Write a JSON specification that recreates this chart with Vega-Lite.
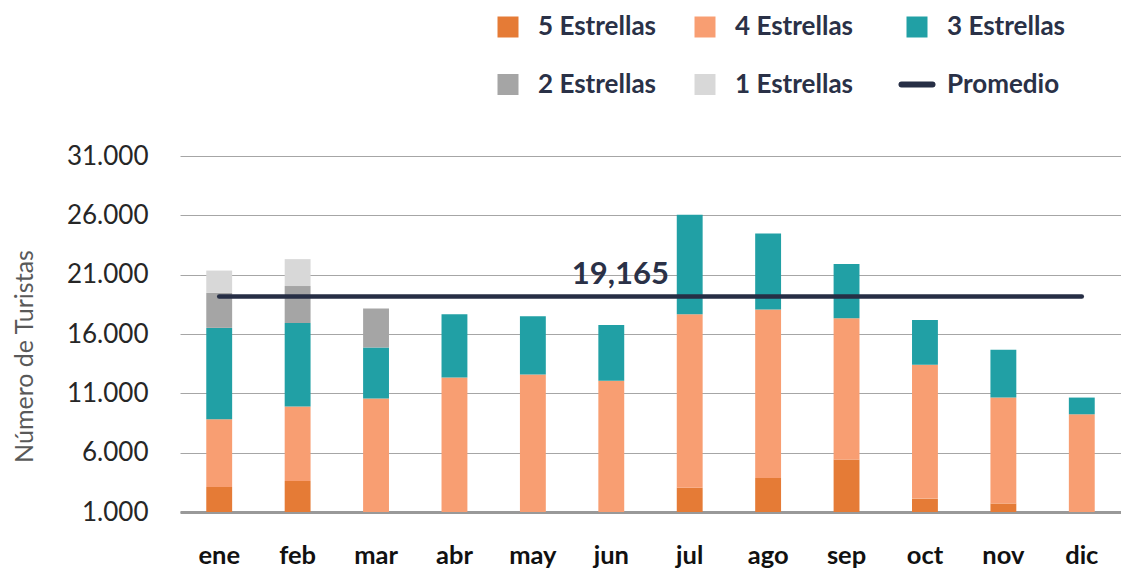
{
  "$schema": "https://vega.github.io/schema/vega-lite/v6.json",
  "width": 941,
  "height": 356,
  "autosize": {"type": "none"},
  "padding": {"left": 180, "top": 156, "right": 0, "bottom": 58},
  "background": "white",
  "config": {"font": "Lato", "view": {"stroke": null}},
  "datasets": {
    "bars": [
      {"mes": "ene", "cat": "5 Estrellas", "o": 1, "v": 3117},
      {"mes": "ene", "cat": "4 Estrellas", "o": 2, "v": 5702},
      {"mes": "ene", "cat": "3 Estrellas", "o": 3, "v": 7697},
      {"mes": "ene", "cat": "2 Estrellas", "o": 4, "v": 2951},
      {"mes": "ene", "cat": "1 Estrellas", "o": 5, "v": 1878},
      {"mes": "feb", "cat": "5 Estrellas", "o": 1, "v": 3611},
      {"mes": "feb", "cat": "4 Estrellas", "o": 2, "v": 6286},
      {"mes": "feb", "cat": "3 Estrellas", "o": 3, "v": 7029},
      {"mes": "feb", "cat": "2 Estrellas", "o": 4, "v": 3115},
      {"mes": "feb", "cat": "1 Estrellas", "o": 5, "v": 2267},
      {"mes": "mar", "cat": "4 Estrellas", "o": 2, "v": 10561},
      {"mes": "mar", "cat": "3 Estrellas", "o": 3, "v": 4293},
      {"mes": "mar", "cat": "2 Estrellas", "o": 4, "v": 3302},
      {"mes": "abr", "cat": "4 Estrellas", "o": 2, "v": 12327},
      {"mes": "abr", "cat": "3 Estrellas", "o": 3, "v": 5337},
      {"mes": "may", "cat": "4 Estrellas", "o": 2, "v": 12597},
      {"mes": "may", "cat": "3 Estrellas", "o": 3, "v": 4903},
      {"mes": "jun", "cat": "4 Estrellas", "o": 2, "v": 12056},
      {"mes": "jun", "cat": "3 Estrellas", "o": 3, "v": 4706},
      {"mes": "jul", "cat": "5 Estrellas", "o": 1, "v": 3035},
      {"mes": "jul", "cat": "4 Estrellas", "o": 2, "v": 14629},
      {"mes": "jul", "cat": "3 Estrellas", "o": 3, "v": 8386},
      {"mes": "ago", "cat": "5 Estrellas", "o": 1, "v": 3858},
      {"mes": "ago", "cat": "4 Estrellas", "o": 2, "v": 14216},
      {"mes": "ago", "cat": "3 Estrellas", "o": 3, "v": 6401},
      {"mes": "sep", "cat": "5 Estrellas", "o": 1, "v": 5423},
      {"mes": "sep", "cat": "4 Estrellas", "o": 2, "v": 11913},
      {"mes": "sep", "cat": "3 Estrellas", "o": 3, "v": 4571},
      {"mes": "oct", "cat": "5 Estrellas", "o": 1, "v": 2128},
      {"mes": "oct", "cat": "4 Estrellas", "o": 2, "v": 11282},
      {"mes": "oct", "cat": "3 Estrellas", "o": 3, "v": 3762},
      {"mes": "nov", "cat": "5 Estrellas", "o": 1, "v": 1717},
      {"mes": "nov", "cat": "4 Estrellas", "o": 2, "v": 8926},
      {"mes": "nov", "cat": "3 Estrellas", "o": 3, "v": 4030},
      {"mes": "dic", "cat": "4 Estrellas", "o": 2, "v": 9234},
      {"mes": "dic", "cat": "3 Estrellas", "o": 3, "v": 1409}
    ],
    "prom": [
      {"mes": "ene", "v": 19165},
      {"mes": "dic", "v": 19165}
    ],
    "lbl": [
      {"mes": "jun", "v": 19165, "t": "19,165"}
    ]
  },
  "layer": [
    {
      "data": {"name": "bars"},
      "mark": {"type": "bar", "clip": true},
      "encoding": {
        "x": {
          "field": "mes", "type": "nominal",
          "sort": ["ene","feb","mar","abr","may","jun","jul","ago","sep","oct","nov","dic"],
          "scale": {"paddingInner": 0.67, "paddingOuter": 0.335},
          "axis": {
            "title": null, "labelAngle": 0, "labelFontSize": 25.5, "labelFontWeight": "bold",
            "labelColor": "#111111", "labelPadding": 31, "ticks": false,
            "domainColor": "#999999", "domainWidth": 3, "grid": false
          }
        },
        "y": {
          "field": "v", "type": "quantitative", "stack": "zero",
          "scale": {"domain": [1000, 31000], "nice": false, "zero": false},
          "axis": {
            "values": [1000, 6000, 11000, 16000, 21000, 26000, 31000],
            "labelExpr": "replace(format(datum.value, ','), ',', '.')",
            "labelFontSize": 26, "labelColor": "#262626", "labelPadding": 32,
            "ticks": false, "domain": false, "gridColor": "#a6a6a6", "gridWidth": 1,
            "title": "Número de Turistas", "titleFontSize": 25, "titleFontWeight": "normal",
            "titleColor": "#595959", "titleX": -148, "titleY": 200, "titleBaseline": "alphabetic"
          }
        },
        "color": {
          "field": "cat", "type": "nominal",
          "scale": {
            "domain": ["5 Estrellas","4 Estrellas","3 Estrellas","2 Estrellas","1 Estrellas","Promedio"],
            "range": ["#e57b36","#f89e72","#21a0a5","#a5a5a5","#d8d8d8","#262e45"]
          },
          "legend": {
            "title": null, "orient": "none", "direction": "horizontal",
            "legendX": 315, "legendY": -142,
            "columns": 3, "columnPadding": 35, "rowPadding": 31.5,
            "symbolSize": 441, "symbolOffset": 0, "labelOffset": 17, "symbolStrokeWidth": 0,
            "labelFontSize": 26, "labelFontWeight": "bold", "labelColor": "#2a3147",
            "labelLimit": 300,
            "encode": {
              "symbols": {
                "update": {
                  "shape": {"signal": "datum.label === 'Promedio' ? 'stroke' : 'square'"},
                  "size": {"signal": "datum.label === 'Promedio' ? 961 : 441"},
                  "fill": {"signal": "scale('color', datum.value)"},
                  "stroke": {"signal": "datum.label === 'Promedio' ? '#3d4a5e' : scale('color', datum.value)"},
                  "strokeWidth": {"signal": "datum.label === 'Promedio' ? 6 : 0"},
                  "strokeCap": {"value": "round"},
                  "opacity": {"value": 1},
                  "fillOpacity": {"value": 1}
                }
              }
            }
          }
        },
        "order": {"field": "o", "type": "quantitative"}
      }
    },
    {
      "data": {"name": "prom"},
      "mark": {"type": "line", "strokeWidth": 4.5, "strokeCap": "round"},
      "encoding": {
        "x": {"field": "mes", "type": "nominal", "sort": ["ene","feb","mar","abr","may","jun","jul","ago","sep","oct","nov","dic"]},
        "y": {"field": "v", "type": "quantitative"},
        "color": {"datum": "Promedio"}
      }
    },
    {
      "data": {"name": "lbl"},
      "mark": {"type": "text", "fontSize": 31, "fontWeight": "bold", "fill": "#2a3147", "dx": 9, "dy": -12, "baseline": "alphabetic"},
      "encoding": {
        "x": {"field": "mes", "type": "nominal", "sort": ["ene","feb","mar","abr","may","jun","jul","ago","sep","oct","nov","dic"]},
        "y": {"field": "v", "type": "quantitative"},
        "text": {"field": "t"}
      }
    }
  ]
}
